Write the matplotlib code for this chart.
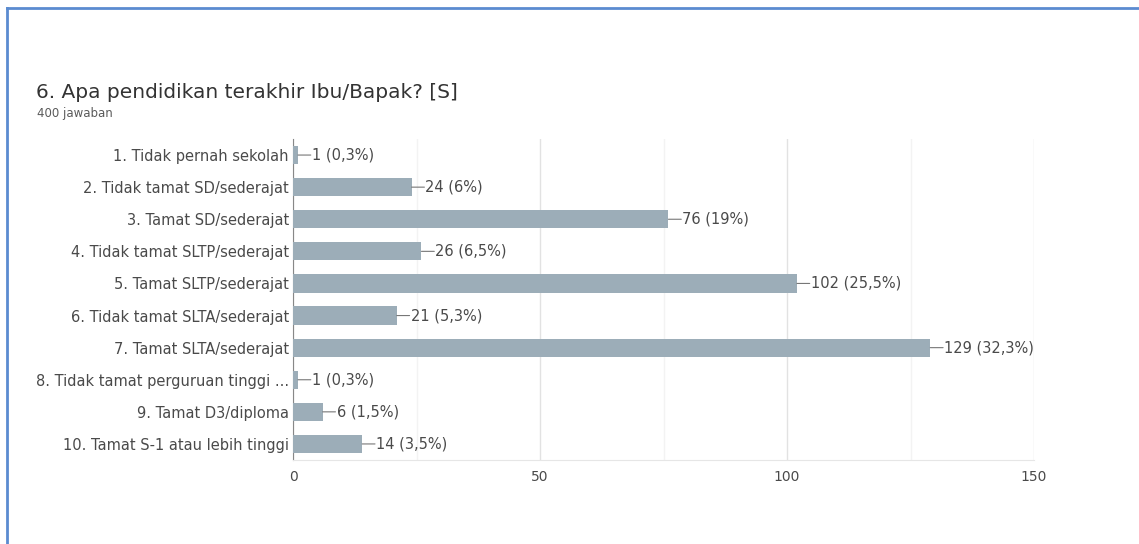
import matplotlib
matplotlib.use('Agg')
import matplotlib.pyplot as plt

# data
categories = [
    "1. Tidak pernah sekolah",
    "2. Tidak tamat SD/sederajat",
    "3. Tamat SD/sederajat",
    "4. Tidak tamat SLTP/sederajat",
    "5. Tamat SLTP/sederajat",
    "6. Tidak tamat SLTA/sederajat",
    "7. Tamat SLTA/sederajat",
    "8. Tidak tamat perguruan tinggi ...",
    "9. Tamat D3/diploma",
    "10. Tamat S-1 atau lebih tinggi",
]
counts = [1, 24, 76, 26, 102, 21, 129, 1, 6, 14]
pct_labels = ["0,3%", "6%", "19%", "6,5%", "25,5%", "5,3%", "32,3%", "0,3%", "1,5%", "3,5%"]
x_ticks = [0, 50, 100, 150]

title = "6. Apa pendidikan terakhir Ibu/Bapak? [S]"
subtitle = "400 jawaban"

plt.rcParams['font.family'] = ['DejaVu Sans']

W, H = 1139, 544
fig = plt.figure(figsize=(W / 100, H / 100), dpi=100)

# blue frame (only left and top edges visible in the crop)
fig.add_artist(plt.Line2D([7 / W, 7 / W], [0, 1 - 8 / H], color='#5b8bd0', lw=2))
fig.add_artist(plt.Line2D([7 / W, 1], [1 - 8 / H, 1 - 8 / H], color='#5b8bd0', lw=2))

fig.text(36 / W, 1 - 92 / H, title, fontsize=14.5, color='#333333', va='center')
fig.text(37 / W, 1 - 113 / H, subtitle, fontsize=8.5, color='#5a5a5a', va='center')

ax = fig.add_axes([293 / W, 1 - 460 / H, (1034 - 293) / W, (460 - 139) / H])

y = list(range(len(categories)))
ax.barh(y, counts, height=0.57, color='#9cadb8', zorder=3)
ax.set_ylim(len(categories) - 0.5, -0.5)
ax.set_xlim(0, 150)

ax.set_yticks(y)
ax.set_yticklabels(categories, fontsize=10.5, color='#4a4a4a')
ax.set_xticks(x_ticks)
ax.set_xticklabels([str(t) for t in x_ticks], fontsize=10, color='#4a4a4a')
ax.set_xticks([25, 75, 125], minor=True)
ax.tick_params(axis='both', which='both', length=0, pad=3)
ax.tick_params(axis='x', which='both', pad=7)

ax.grid(axis='x', which='major', color='#e2e2e2', lw=1, zorder=0)
ax.grid(axis='x', which='minor', color='#f3f3f3', lw=1, zorder=0)
for s in ['top', 'right']:
    ax.spines[s].set_visible(False)
ax.spines['left'].set_color('#888888')
ax.spines['bottom'].set_color('#e6e6e6')

for yi, c, p in zip(y, counts, pct_labels):
    ax.annotate("", xy=(c, yi), xytext=(c + 2.6, yi),
                arrowprops=dict(arrowstyle='-', color='#777777', lw=0.8,
                                shrinkA=0, shrinkB=0))
    ax.annotate(f"{c} ({p})", xy=(c, yi), xytext=(10, 0), textcoords='offset points',
                va='center', ha='left', fontsize=10.5, color='#4a4a4a')

fig.savefig('out.png', dpi=100, facecolor='white')
